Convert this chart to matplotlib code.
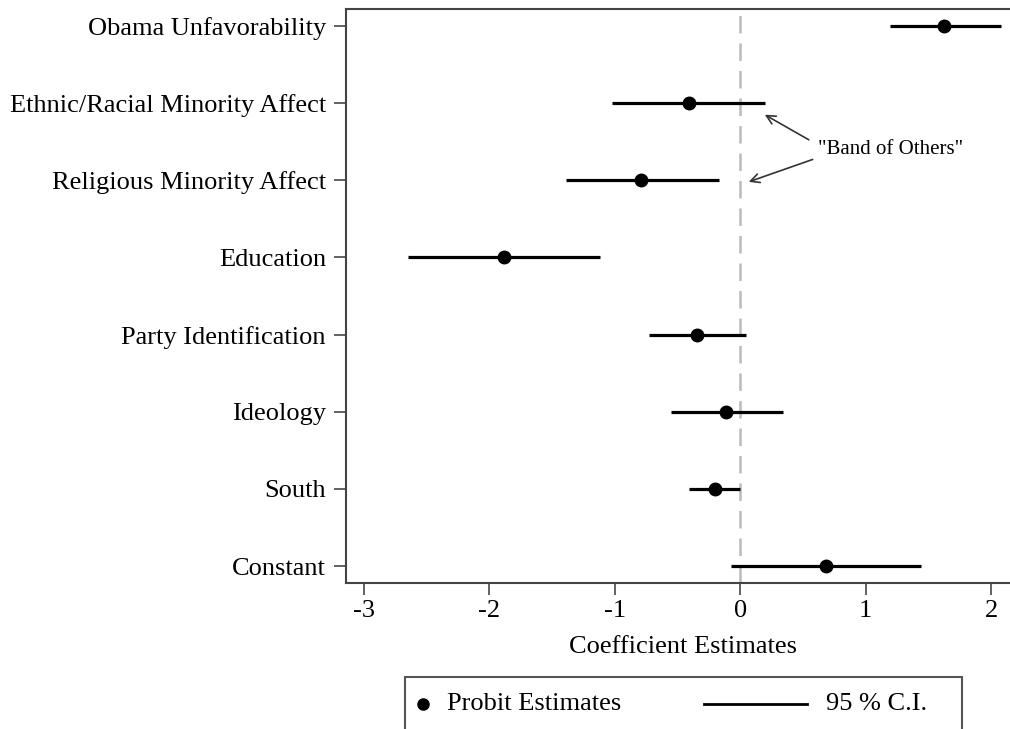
import matplotlib.pyplot as plt
from matplotlib.lines import Line2D
from matplotlib.patches import Rectangle

plt.rcParams['font.family'] = ['Liberation Serif', 'DejaVu Serif']
plt.rcParams['axes.unicode_minus'] = False

variables = ["Obama Unfavorability", "Ethnic/Racial Minority Affect",
             "Religious Minority Affect", "Education", "Party Identification",
             "Ideology", "South", "Constant"]
estimates = [1.62, -0.41, -0.79, -1.88, -0.34, -0.11, -0.20, 0.68]
ci_low = [1.19, -1.02, -1.385, -2.645, -0.73, -0.55, -0.41, -0.07]
ci_high = [2.08, 0.195, -0.17, -1.12, 0.05, 0.34, 0.0, 1.44]
xticks = [-3, -2, -1, 0, 1, 2]

W, H = 1010, 729
fig = plt.figure(figsize=(W / 100, H / 100), dpi=100)
ax = fig.add_axes([346 / W, 1 - 583 / H, 1.0 - 346 / W + 0.01, (583 - 8.5) / H])

ypos = list(range(len(variables), 0, -1))

ax.axvline(0, color='#bbbbbb', lw=1.8, dashes=(7, 4), zorder=1)
ax.hlines(ypos, ci_low, ci_high, color='black', lw=2.3, zorder=2)
ax.plot(estimates, ypos, 'o', color='black', ms=9, zorder=3)

ax.set_xlim(-3.14, 2.23)
ax.set_ylim(0.78, 8.227)
ax.set_yticks(ypos)
ax.set_yticklabels(variables, fontsize=19)
ax.set_xticks(xticks)
ax.set_xticklabels([str(t) for t in xticks], fontsize=19)
ax.set_xlabel("Coefficient Estimates", fontsize=19, labelpad=10)
ax.tick_params(axis='both', direction='out', length=8.5, width=1.3, color='#555555')
ax.tick_params(axis='y', pad=6)
ax.tick_params(axis='x', pad=4)
for s in ax.spines.values():
    s.set_color('#444444')
    s.set_linewidth(1.5)

# "Band of Others" label with two arrows
ax.text(0.62, 6.40, '"Band of Others"', fontsize=15, ha='left', va='center')
arrow = dict(arrowstyle='->', color='#333333', lw=1.2, shrinkA=0, shrinkB=0,
             mutation_scale=16)
ax.annotate('', xy=(0.196, 6.85), xytext=(0.547, 6.525), arrowprops=arrow)
ax.annotate('', xy=(0.068, 5.98), xytext=(0.577, 6.27), arrowprops=arrow)

# legend box at the bottom
fig.patches.append(Rectangle((405 / W, -0.02), (962 - 405) / W, 0.02 + (H - 677) / H,
                             transform=fig.transFigure, fill=False,
                             edgecolor='#555555', lw=1.5))
ly = 1 - 704 / H
fig.lines.append(Line2D([423 / W], [ly], marker='o', ms=8, color='black',
                        ls='none', transform=fig.transFigure))
fig.text(447 / W, ly, "Probit Estimates", fontsize=19, va='center')
fig.lines.append(Line2D([704 / W, 807 / W], [ly, ly], color='black', lw=2,
                        transform=fig.transFigure))
fig.text(826 / W, ly, "95 % C.I.", fontsize=19, va='center')

fig.savefig("out.png", dpi=100)
